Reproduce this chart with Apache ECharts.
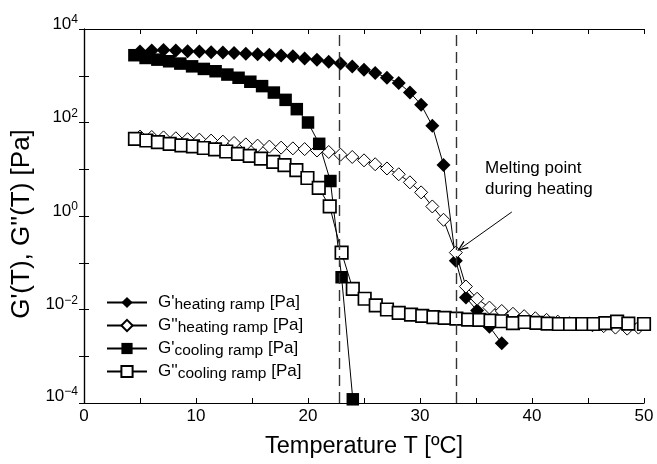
<!DOCTYPE html>
<html><head><meta charset="utf-8">
<script src="https://cdn.jsdelivr.net/npm/echarts@6/dist/echarts.min.js"></script>
<style>html,body{margin:0;padding:0;background:#fff}#c{width:657px;height:464px}</style>
</head><body><div id="c"></div>
<script>
// ---- data ----
const T_GP_HEAT = [5.0, 6.05, 7.1, 8.2, 9.25, 10.3, 11.35, 12.4, 13.4, 14.45, 15.5, 16.55, 17.6, 18.65, 19.7, 20.8, 21.85, 22.9, 23.95, 25.0, 26.0, 27.05, 28.1, 29.1, 30.1, 31.1, 32.1, 33.2, 34.1, 35.1, 36.2, 37.3];
const GP_HEAT = [3300, 3450, 3550, 3450, 3350, 3300, 3200, 3150, 3050, 2950, 2900, 2800, 2700, 2600, 2350, 2200, 2000, 1830, 1570, 1350, 1150, 910, 700, 440, 240, 85, 12.4, 0.11, 0.018, 0.0095, 0.0043, 0.0019];

const T_GPP_HEAT = [5.0, 6.05, 7.1, 8.2, 9.25, 10.3, 11.35, 12.4, 13.4, 14.45, 15.5, 16.55, 17.6, 18.65, 19.7, 20.8, 21.85, 22.9, 23.95, 25.0, 26.0, 27.05, 28.1, 29.1, 30.1, 31.1, 32.1, 33.2, 34.1, 35.1, 36.2, 37.3, 38.3, 39.3, 40.3, 41.3, 42.3, 43.35, 44.4, 45.4, 46.4, 47.45, 48.5, 49.5];
const GPP_HEAT = [50, 49, 48, 46, 44, 43, 41, 39, 36.5, 34, 32, 30.5, 29, 28, 27, 25.2, 23.4, 20.5, 18.3, 15.5, 12.8, 10.4, 7.8, 5.25, 3.2, 1.6, 0.83, 0.165, 0.031, 0.017, 0.011, 0.0093, 0.0081, 0.0072, 0.0065, 0.0060, 0.0055, 0.0051, 0.0048, 0.0046, 0.0044, 0.0041, 0.0039, 0.0041];

const T_GP_COOL = [4.5, 5.5, 6.55, 7.6, 8.6, 9.65, 10.7, 11.75, 12.8, 13.8, 14.85, 15.9, 16.95, 18.0, 19.0, 20.0, 21.0, 22.0, 23.0, 24.0];
const GP_COOL = [2750, 2400, 2210, 2040, 1820, 1590, 1400, 1250, 1060, 905, 745, 600, 437, 305, 193, 100, 35, 5.6, 0.049, 0.00012];

const T_GPP_COOL = [4.55, 5.57, 6.6, 7.65, 8.7, 9.73, 10.7, 11.7, 12.7, 13.75, 14.8, 15.8, 16.9, 17.9, 18.96, 19.95, 20.96, 21.94, 23.0, 24.0, 25.06, 26.05, 27.05, 28.1, 29.2, 30.2, 31.2, 32.2, 33.25, 34.3, 35.3, 36.3, 37.3, 38.3, 39.35, 40.4, 41.4, 42.4, 43.4, 44.5, 45.5, 46.55, 47.6, 48.6, 50.0];
const GPP_COOL = [44.7, 41.2, 38, 35, 32.4, 30.9, 28.5, 26.6, 24, 21.4, 19.3, 16.9, 14.4, 12.2, 9.6, 6.5, 4.0, 1.6, 0.165, 0.0277, 0.017, 0.0123, 0.010, 0.0085, 0.0078, 0.0073, 0.0069, 0.0066, 0.0064, 0.0061, 0.0060, 0.0058, 0.0056, 0.0051, 0.0054, 0.0052, 0.0050, 0.0049, 0.0049, 0.0049, 0.0049, 0.0051, 0.0055, 0.0050, 0.0049];

const SERIES_KEYS = ['gpHeat', 'gppHeat', 'gpCool', 'gppCool'];
const LEGEND_MAIN = ["G'", "G''", "G'", "G''"];
const LEGEND_SUB = ['heating ramp', 'heating ramp', 'cooling ramp', 'cooling ramp'];
const LEGEND_UNIT = ' [Pa]';

const DASHED_T = [22.8, 33.2];
const ARROW_FROM = [38.2, 1.22];
const ARROW_TO = [33.72, 0.21];
const NOTE_TEXT = 'Melting point\nduring heating';

const X_TITLE = 'Temperature T [ºC]';
const Y_TITLE = "G'(T), G''(T) [Pa]";

// ---- chart ----
const FONT = "'Liberation Sans', Arial, Helvetica, sans-serif";
const pairs = (xs, ys) => xs.map((x, i) => [x, ys[i]]);
const chart = echarts.init(document.getElementById('c'), null, {renderer: 'canvas'});

function mkSeries(key, data, symbol, size, filled, bw) {
  return {
    name: key, type: 'line', data: data, symbol: symbol, symbolSize: size,
    showAllSymbol: true, animation: false, silent: true,
    lineStyle: {color: '#000', width: 1},
    itemStyle: filled ? {color: '#000', borderColor: '#000', borderWidth: 0}
                      : {color: '#fff', borderColor: '#000', borderWidth: bw},
    emphasis: {disabled: true}
  };
}

const legendText = {};
SERIES_KEYS.forEach((k, i) => {
  legendText[k] = '{b|' + LEGEND_MAIN[i] + '}{s|' + LEGEND_SUB[i] + '}{b|' + LEGEND_UNIT + '}';
});

const series = [
  {
    name: 'guides', type: 'line', data: [], silent: true, animation: false,
    markLine: {
      silent: true, symbol: 'none', animation: false,
      label: {show: false},
      lineStyle: {color: '#333', type: [11, 6], width: 1.4},
      data: DASHED_T.map(t => ({xAxis: t}))
    }
  },
  mkSeries('gpHeat', pairs(T_GP_HEAT, GP_HEAT), 'diamond', 14, true),
  mkSeries('gppHeat', pairs(T_GPP_HEAT, GPP_HEAT), 'diamond', 13, false, 1),
  mkSeries('gpCool', pairs(T_GP_COOL, GP_COOL), 'rect', 12.5, true),
  mkSeries('gppCool', pairs(T_GPP_COOL, GPP_COOL), 'rect', 12.5, false, 1.7)
];
series[4].markLine = {
  silent: true, animation: false, label: {show: false},
  lineStyle: {color: '#000', type: 'solid', width: 1},
  data: [[
    {coord: ARROW_FROM, symbol: 'none'},
    {coord: ARROW_TO, symbol: 'path://M0,10 L5,0 L10,10 L8.4,10 L5,3.2 L1.6,10 Z', symbolSize: [9, 11]}
  ]]
};

const axisBase = {
  axisLine: {show: true, lineStyle: {color: '#000', width: 1.2}},
  axisTick: {show: true, inside: true, length: 5, lineStyle: {color: '#000', width: 1}},
  splitLine: {show: false}
};

const option = {
  backgroundColor: '#fff',
  animation: false,
  grid: {left: 84, right: 13, top: 29, bottom: 57},
  xAxis: [
    Object.assign({}, axisBase, {
      type: 'value', min: 0, max: 50, interval: 5, position: 'bottom',
      axisLabel: {show: true, fontFamily: FONT, fontSize: 17, color: '#000', margin: 5,
        showMinLabel: true, showMaxLabel: true,
        formatter: v => (v % 10 === 0 ? String(v) : '')},
      name: X_TITLE, nameLocation: 'middle', nameGap: 32,
      nameTextStyle: {fontFamily: FONT, fontSize: 23.5, color: '#000'}
    }),
    Object.assign({}, axisBase, {
      type: 'value', min: 0, max: 50, interval: 5, position: 'top',
      axisLabel: {show: false}
    })
  ],
  yAxis: [
    Object.assign({}, axisBase, {
      type: 'log', logBase: 10, min: 1e-4, max: 1e4, splitNumber: 8, position: 'left',
      axisLabel: {show: true, color: '#000', margin: 6, showMinLabel: true, showMaxLabel: true,
        padding: [0, 0, 10, 0],
        formatter: function (v) {
          const e = Math.round(Math.log10(v));
          if (e % 2 !== 0) return '';
          const es = e < 0 ? '\u2212' + (-e) : String(e);
          const s = '{b|10}{s|' + es + '}';
          return e === -4 ? s + '\n{g| }' : s;
        },
        rich: {
          b: {fontFamily: FONT, fontSize: 17, lineHeight: 20, color: '#000'},
          s: {fontFamily: FONT, fontSize: 12, lineHeight: 8, verticalAlign: 'top', color: '#000'},
          g: {fontFamily: FONT, fontSize: 4, lineHeight: 4, color: '#000'}
        }
      },
      name: Y_TITLE, nameLocation: 'middle', nameGap: 44, nameRotate: 90,
      nameTextStyle: {fontFamily: FONT, fontSize: 26, color: '#000', padding: [0, 16, 0, 0]}
    }),
    Object.assign({}, axisBase, {
      type: 'log', logBase: 10, min: 1e-4, max: 1e4, splitNumber: 8, position: 'right',
      axisLabel: {show: false}
    })
  ],
  legend: {
    data: SERIES_KEYS, orient: 'vertical', left: 101, top: 289,
    itemWidth: 40, itemHeight: 14, itemGap: 4,
    selectedMode: false,
    formatter: name => legendText[name],
    textStyle: {
      padding: [0, 0, 0, 6],
      rich: {
        b: {fontFamily: FONT, fontSize: 17, lineHeight: 21, color: '#000'},
        s: {fontFamily: FONT, fontSize: 15.5, lineHeight: 10, verticalAlign: 'bottom', color: '#000'}
      }
    }
  },
  graphic: [{
    type: 'text', left: 485, top: 158, silent: true,
    style: {text: NOTE_TEXT, font: '17px ' + FONT, fill: '#000', lineHeight: 21}
  }],
  series: series
};
chart.setOption(option);
</script>
</body></html>
